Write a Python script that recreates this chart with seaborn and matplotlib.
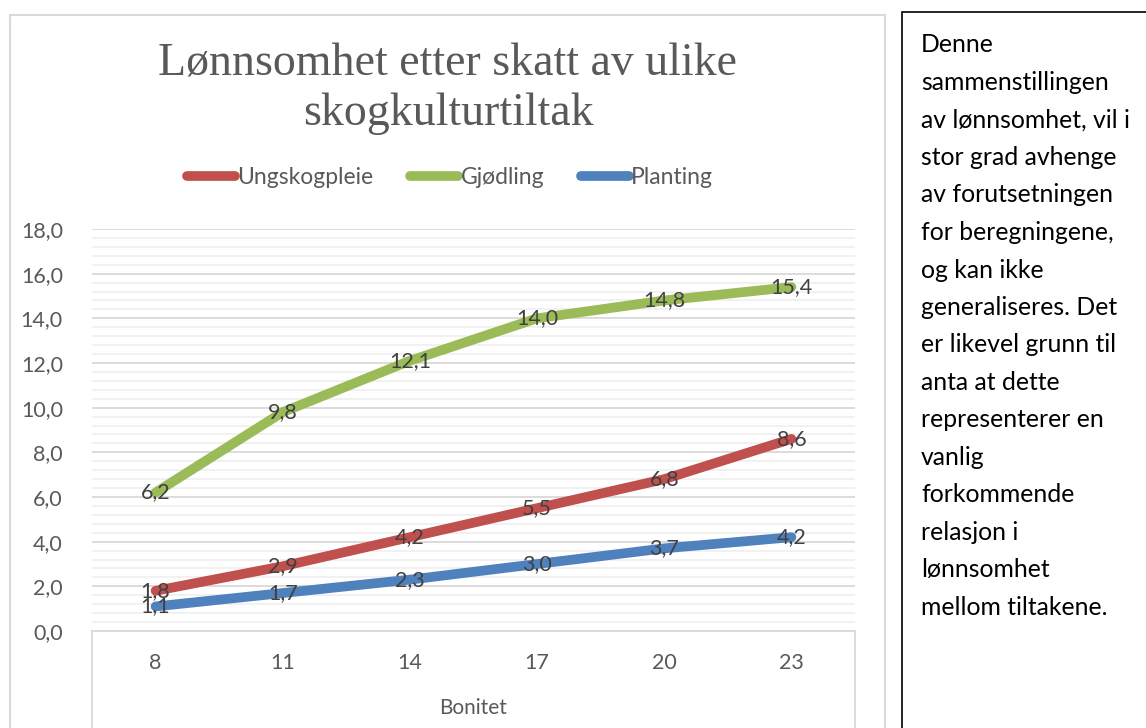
import numpy as np
import pandas as pd
import matplotlib
matplotlib.use("Agg")
import matplotlib.pyplot as plt
from matplotlib.lines import Line2D
from matplotlib.patches import Rectangle
from matplotlib.ticker import MultipleLocator, FuncFormatter
import seaborn as sns

# ---------------------------------------------------------------
# Data
# ---------------------------------------------------------------
bonitet = ["8", "11", "14", "17", "20", "23"]
ungskogpleie = [1.8, 2.9, 4.2, 5.5, 6.8, 8.6]
gjodling = [6.2, 9.8, 12.1, 14.0, 14.8, 15.4]
planting = [1.1, 1.7, 2.3, 3.0, 3.7, 4.2]

series_names = ["Ungskogpleie", "Gjødling", "Planting"]
series_colors = ["#C0504D", "#9BBB59", "#4F81BD"]

side_text = [
    "Denne", "sammenstillingen", "av lønnsomhet, vil i", "stor grad avhenge",
    "av forutsetningen", "for beregningene,", "og kan ikke",
    "generaliseres. Det", "er likevel grunn til", "anta at dette",
    "representerer en", "vanlig", "forkommende", "relasjon i",
    "lønnsomhet", "mellom tiltakene.",
]

df = pd.DataFrame({
    "pos": np.tile(np.arange(len(bonitet)), 3),
    "Bonitet": bonitet * 3,
    "verdi": ungskogpleie + gjodling + planting,
    "tiltak": np.repeat(series_names, len(bonitet)),
})

# ---------------------------------------------------------------
# Style
# ---------------------------------------------------------------
sns.set_theme(style="white")
plt.rcParams["font.family"] = ["Lato", "DejaVu Sans"]
TXT = "#595959"
W, H = 1146, 728

fig = plt.figure(figsize=(W / 100, H / 100), dpi=100)
ax = fig.add_axes([92 / W, 1 - 631 / H, (855 - 92) / W, (631 - 229) / H])

sns.lineplot(data=df, x="pos", y="verdi", hue="tiltak", hue_order=series_names,
             palette=series_colors, linewidth=7, ax=ax, legend=True,
             solid_capstyle="round")

# data labels centred on the points (1,8 and 1,1 overlap, as in the original)
for name, vals in zip(series_names, [ungskogpleie, gjodling, planting]):
    for i, v in enumerate(vals):
        ax.text(i, v, f"{v:.1f}".replace(".", ","), ha="center", va="center",
                fontsize=15.5, color="#404040", zorder=5)

ax.set_xlim(-0.5, len(bonitet) - 0.5)
ax.set_ylim(0, 18)
ax.yaxis.set_major_locator(MultipleLocator(2))
ax.yaxis.set_minor_locator(MultipleLocator(0.4))
ax.yaxis.set_major_formatter(FuncFormatter(lambda v, p: f"{v:.1f}".replace(".", ",")))
ax.set_xticks(range(len(bonitet)))
ax.set_xticklabels(bonitet)
ax.grid(which="major", axis="y", color="#d9d9d9", linewidth=1.3, zorder=0)
ax.grid(which="minor", axis="y", color="#f0f0f0", linewidth=1.3, zorder=0)
ax.grid(which="major", axis="x", visible=False)
ax.set_axisbelow(True)
for s in ["top", "right", "left"]:
    ax.spines[s].set_visible(False)
ax.spines["bottom"].set_color("#d9d9d9")
ax.spines["bottom"].set_linewidth(1.3)
ax.tick_params(axis="y", which="both", length=0, pad=21, labelsize=15.5, labelcolor=TXT)
ax.tick_params(axis="x", length=0, pad=16, labelsize=15.5, labelcolor=TXT)
ax.set_xlabel("Bonitet", fontsize=15, color=TXT, labelpad=18)
ax.set_ylabel("")

# box lines below the category axis
for xa in (0, 1):
    ax.add_line(Line2D([xa, xa], [0, -0.4], transform=ax.transAxes,
                       color="#d9d9d9", linewidth=1.3, clip_on=False))

# legend
handles = [Line2D([0], [0], color=c, linewidth=7, solid_capstyle="round")
           for c in series_colors]
ax.legend(handles, series_names, loc="center", bbox_to_anchor=(450 / W, 1 - 178 / H),
          bbox_transform=fig.transFigure, ncol=3, frameon=False, fontsize=16.5,
          handlelength=2.1, handletextpad=0.1, columnspacing=1.6, labelcolor=TXT)

# title
fig.text(448 / W, 1 - 89 / H, "Lønnsomhet etter skatt av ulike\nskogkulturtiltak",
         ha="center", va="center", fontsize=33, color=TXT,
         family=["Liberation Serif", "DejaVu Serif"], linespacing=1.2)

# chart frame and side text box
fig.add_artist(Rectangle((10 / W, -0.05), (885 - 10) / W, 1.05 - 15 / H,
                         transform=fig.transFigure, fill=False,
                         edgecolor="#d9d9d9", linewidth=1.5))
fig.add_artist(Rectangle((902 / W, -0.05), 0.3, 1.05 - 12 / H,
                         transform=fig.transFigure, fill=False,
                         edgecolor="black", linewidth=1.2))
for k, line in enumerate(side_text):
    fig.text(921 / W, 1 - (45 + k * 37.5) / H, line, ha="left", va="center",
             fontsize=17.8, color="black")

fig.savefig("out.png", dpi=100)
